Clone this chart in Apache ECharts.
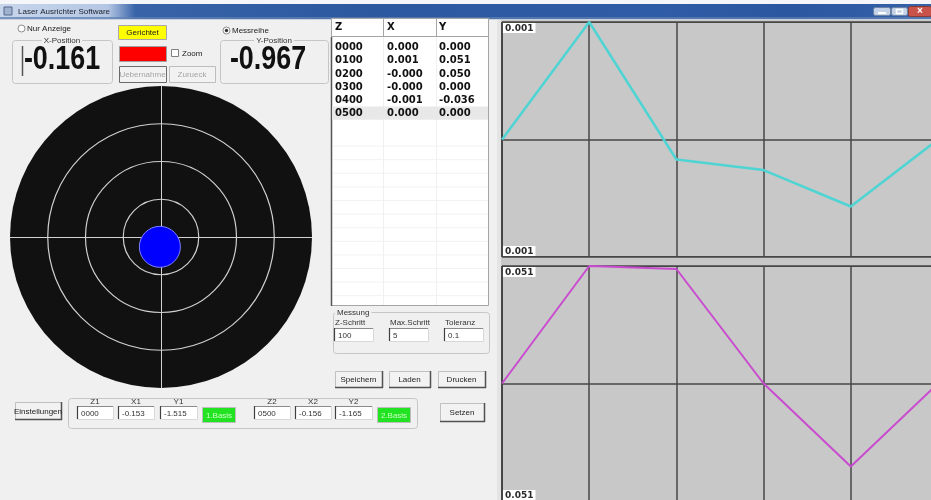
<!DOCTYPE html>
<html><head><meta charset="utf-8">
<script src="https://cdn.jsdelivr.net/npm/echarts@6/dist/echarts.min.js"></script>
<style>html,body{margin:0;padding:0;background:#f0f0f0;overflow:hidden}#c{width:931px;height:500px}</style>
</head><body><div id="c"></div>
<script>
// ---- data ----
const zSteps = [0, 100, 200, 300, 400, 500];
const xDeviation = [0, 0.001, -0.00017, -0.00026, -0.00057, 0];
const yDeviation = [0, 0.051, 0.0497, 0, -0.036, 0];
const xRange = 0.001;
const yRange = 0.051;
const xPosition = -0.161;
const yPosition = -0.967;
const targetRings = [1, 2, 3];
const targetExtent = 4;
const laserSpot = [-0.03, -0.26];
const tableHeader = ['Z', 'X', 'Y'];
const messungLabels = ['Z-Schritt', 'Max.Schritt', 'Toleranz'];
const messungValues = ['100', '5', '0.1'];
const basisLabels1 = ['Z1', 'X1', 'Y1'];
const basisLabels2 = ['Z2', 'X2', 'Y2'];
const basis1 = ['0000', '-0.153', '-1.515'];
const basis2 = ['0500', '-0.156', '-1.165'];

// ---- helpers for the window chrome ----
const UI = '"Liberation Sans", Arial, sans-serif';
const G = [];
function R(x, y, w, h, fill, stroke, lw, r, z) {
  G.push({type: 'rect', z: z || 0, silent: true, shape: {x, y, width: w, height: h, r: r || 0},
    style: {fill: fill || 'none', stroke: stroke || 'none', lineWidth: lw || 1}});
}
function L(x1, y1, x2, y2, stroke, lw, z) {
  G.push({type: 'line', z: z || 0, silent: true, shape: {x1, y1, x2, y2}, style: {stroke, lineWidth: lw || 1}});
}
function T(x, y, s, o) {
  o = o || {};
  const st = {text: s, fill: o.color || '#1a1a1a', font: o.font || ('8px ' + UI),
    align: o.align || 'left', verticalAlign: o.va || 'middle'};
  if (o.bg) { st.backgroundColor = o.bg; st.padding = o.pad || [0, 2]; }
  G.push({type: 'text', z: o.z || 1, silent: true, x, y, scaleX: o.sx || 1, style: st});
}
function C(cx, cy, r, fill, stroke, lw) {
  G.push({type: 'circle', z: 1, silent: true, shape: {cx, cy, r}, style: {fill: fill || 'none', stroke: stroke || 'none', lineWidth: lw || 1}});
}
function button(x, y, w, h, label, o) {
  o = o || {};
  R(x + 0.5, y + 0.5, w, h, o.fill || '#f2f2f2', o.border || '#c0c0c0', 1);
  if (!o.flat) { L(x + w + 0.5, y, x + w + 0.5, y + h + 1, '#505050', 1.5); L(x, y + h + 0.5, x + w + 1, y + h + 0.5, '#505050', 1.5); }
  T(x + w / 2, y + h / 2 + 1, label, {align: 'center', color: o.color || '#222'});
}
function input(x, y, w, h, val) {
  R(x + 0.5, y + 0.5, w, h, '#ffffff', '#d8d8d8', 1);
  L(x, y + 0.5, x + w, y + 0.5, '#8a8a8a', 1);
  L(x + 0.5, y, x + 0.5, y + h, '#404040', 1.2);
  T(x + 4, y + h / 2 + 1, val, {color: '#333'});
}
function groupbox(x, y, w, h, title, tx, center) {
  R(x + 0.5, y + 0.5, w, h, 'none', '#c6c6c6', 1, 3);
  if (title) T(tx, y + 0.5, title, {bg: '#f0f0f0', align: center ? 'center' : 'left', color: '#333'});
}

// ---- title bar ----
R(0, 0, 931, 4, '#f4f6fa', 'none');
G.push({type: 'rect', z: 0, silent: true, shape: {x: 0, y: 4, width: 931, height: 15},
  style: {fill: {type: 'linear', x: 0, y: 0, x2: 1, y2: 0, colorStops: [
    {offset: 0, color: '#5a82bf'}, {offset: 0.15, color: '#3863a8'}, {offset: 0.4, color: '#2c58a0'},
    {offset: 0.7, color: '#2f5ca6'}, {offset: 0.85, color: '#2a57a0'}, {offset: 1, color: '#3461a8'}]}}});
G.push({type: 'rect', z: 0, silent: true, shape: {x: 0, y: 4, width: 135, height: 15},
  style: {fill: {type: 'linear', x: 0, y: 0, x2: 1, y2: 0, colorStops: [
    {offset: 0, color: 'rgba(205,218,238,0.95)'}, {offset: 0.8, color: 'rgba(200,214,236,0.85)'}, {offset: 1, color: 'rgba(200,214,236,0)'}]}}});
L(0, 18, 931, 18, '#5f80b2', 1.5);
R(4, 7, 8, 8, '#9fb3d1', '#56688a', 1);
T(18, 11.5, 'Laser Ausrichter Software', {color: '#1b1f2a'});
R(873.5, 7.5, 17, 8, '#c3d2e6', '#6c82a2', 1, 2);
L(878, 13, 886, 13, '#ffffff', 2);
R(891.5, 7.5, 16, 8, '#c3d2e6', '#6c82a2', 1, 2);
R(896.5, 9.5, 6, 4, 'none', '#ffffff', 1.5);
R(908.5, 6.5, 23, 10, '#c9534b', '#8a3a35', 1, 2);
T(920, 11.5, '×', {align: 'center', color: '#ffffff', font: 'bold 10px ' + UI});
L(0, 19.5, 931, 19.5, '#c9d2de', 1);

// ---- top controls ----
C(21.5, 28.5, 3.5, '#ffffff', '#8a8a8a');
T(27, 28.5, 'Nur Anzeige');
R(118.5, 25.5, 48, 14, '#ffff00', '#a8a8a8', 1);
T(142.5, 33, 'Gerichtet', {align: 'center'});
C(226.5, 30.5, 3.5, '#ffffff', '#8a8a8a');
C(226.5, 30.5, 1.7, '#333333');
T(232, 30.5, 'Messreihe');

groupbox(12, 40, 100, 43, 'X-Position', 62, true);
L(22.5, 46, 22.5, 76, '#555555', 1.5);
T(62, 59.5, xPosition.toFixed(3), {align: 'center', font: 'bold 34px ' + UI, sx: 0.79, color: '#111'});
groupbox(220, 40, 108, 43, 'Y-Position', 274, true);
T(268, 59.5, yPosition.toFixed(3), {align: 'center', font: 'bold 34px ' + UI, sx: 0.79, color: '#111'});

R(119.5, 46.5, 47, 15, '#ff0000', '#a0a0a0', 1);
R(171.5, 49.5, 7, 7, '#ffffff', '#808080', 1);
T(182, 53.5, 'Zoom');
button(119, 66, 47, 16, 'Uebernahme', {color: '#a5a5a5', border: '#6a6a6a', flat: true});
button(169, 66, 46, 16, 'Zurueck', {color: '#a5a5a5', border: '#bdbdbd', flat: true});

// ---- table ----
const rowTop = 37.5, rowH = 13.2, colX = [335, 387, 439], colLines = [383.5, 436.5];
R(331.5, 18.5, 157, 287, '#ffffff', '#a5a5a5', 1);
L(331.5, 37, 331.5, 306, '#555555', 1.5);
for (let y = rowTop + 3 + 8 * rowH; y < 304; y += 13.6) L(333, y, 488, y, '#f2f2f2', 1);
colLines.forEach(x => L(x, 18, x, 305, '#f0f0f0', 1));
colLines.forEach(x => L(x, 18, x, 37, '#a5a5a5', 1));
L(331, 36.5, 489, 36.5, '#a5a5a5', 1);
const tblFont = 'bold 10px "DejaVu Sans", Verdana, sans-serif';
tableHeader.forEach((h, i) => T(colX[i], 27.5, h, {font: tblFont, color: '#111'}));
R(332, rowTop + 3 + 5 * rowH, 156, rowH, '#e8e8e8', 'none');
zSteps.forEach((z, i) => {
  const cy = rowTop + 3.5 + (i + 0.5) * rowH;
  T(colX[0], cy, String(z).padStart(4, '0'), {font: tblFont, color: '#111'});
  T(colX[1], cy, xDeviation[i].toFixed(3), {font: tblFont, color: '#111'});
  T(colX[2], cy, yDeviation[i].toFixed(3), {font: tblFont, color: '#111'});
});

// ---- Messung ----
groupbox(333, 312, 156, 41, 'Messung', 335);
const mX = [334, 389, 444];
messungLabels.forEach((l, i) => T(mX[i] + 1, 323, l, {color: '#333'}));
messungValues.forEach((v, i) => input(mX[i], 328, 39, 13, v));
button(335, 371, 47, 16, 'Speichern');
button(389, 371, 41, 16, 'Laden');
button(438, 371, 47, 16, 'Drucken');

// ---- bottom row ----
button(15, 402, 46, 17, 'Einstellungen');
groupbox(68, 398, 349, 30, null, 0);
const b1X = [77, 118, 160], b2X = [254, 295, 335], bW = [36, 36, 37];
basisLabels1.forEach((l, i) => T(b1X[i] + bW[i] / 2, 402, l, {align: 'center', color: '#333'}));
basisLabels2.forEach((l, i) => T(b2X[i] + bW[i] / 2, 402, l, {align: 'center', color: '#333'}));
basis1.forEach((v, i) => input(b1X[i], 406, bW[i], 13, v));
basis2.forEach((v, i) => input(b2X[i], 406, bW[i], 13, v));
R(202.5, 407.5, 33, 15, '#22e322', '#bdbdbd', 1);
T(219, 415.5, '1.Basis', {align: 'center', color: '#c9ffc0'});
R(377.5, 407.5, 33, 15, '#22e322', '#bdbdbd', 1);
T(394, 415.5, '2.Basis', {align: 'center', color: '#c9ffc0'});
button(440, 403, 44, 18, 'Setzen');

// ---- right panel chrome ----
R(497, 20, 434, 2, '#c8c8c8', 'none');
R(497, 20, 4, 480, '#e4e4e4', 'none');
R(501, 257, 430, 9, '#c8c8c8', 'none');

// ---- chart ----
const gridLine = {color: '#474747', width: 1.5};
function lineX(i) {
  return {type: 'value', gridIndex: i, min: zSteps[0], max: zSteps[zSteps.length - 1], interval: 100,
    axisLine: {show: false}, axisTick: {show: false}, axisLabel: {show: false},
    splitLine: {show: true, lineStyle: gridLine}};
}
function lineY(i, r) {
  return {type: 'value', gridIndex: i, min: -r, max: r, interval: r,
    axisLine: {show: false}, axisTick: {show: false},
    splitLine: {show: true, lineStyle: gridLine},
    axisLabel: {inside: true, margin: 1, showMinLabel: true, showMaxLabel: true,
      formatter: v => v === 0 ? '' : (v > 0 ? '{e| }\n{t|' + Math.abs(v).toFixed(3) + '}' : '{t|' + Math.abs(v).toFixed(3) + '}\n{e| }'),
      rich: {t: {backgroundColor: '#ffffff', padding: [1, 2, 0, 2], fontSize: 9, fontWeight: 'bold', color: '#2a2a2a',
        fontFamily: '"DejaVu Sans", Verdana, sans-serif', lineHeight: 12},
        e: {fontSize: 9, lineHeight: 12}}},
    z: 4};
}
function targetAxis(i) {
  return {type: 'value', gridIndex: i, min: -targetExtent, max: targetExtent,
    axisLine: {show: true, onZero: true, lineStyle: {color: '#d2d2d2', width: 1}},
    axisTick: {show: false}, axisLabel: {show: false}, splitLine: {show: false}, z: 3};
}
const targetSize = 302;
const unit = targetSize / (2 * targetExtent);

const option = {
  animation: false,
  backgroundColor: '#f0f0f0',
  graphic: {elements: G},
  grid: [
    {left: 502, top: 22, width: 436, height: 235, show: true, backgroundColor: '#c8c8c8', borderColor: '#474747', borderWidth: 2, outerBoundsMode: 'none'},
    {left: 502, top: 266, width: 436, height: 235, show: true, backgroundColor: '#c8c8c8', borderColor: '#474747', borderWidth: 2, outerBoundsMode: 'none'},
    {left: 10, top: 86, width: targetSize, height: targetSize, show: false, outerBoundsMode: 'none'}
  ],
  xAxis: [lineX(0), lineX(1), targetAxis(2)],
  yAxis: [lineY(0, xRange), lineY(1, yRange), targetAxis(2)],
  series: [
    {type: 'line', xAxisIndex: 0, yAxisIndex: 0, data: zSteps.map((z, i) => [z, xDeviation[i]]),
      symbol: 'none', showSymbol: false, lineStyle: {color: '#4fd4d4', width: 2.5}, z: 5, silent: true},
    {type: 'line', xAxisIndex: 1, yAxisIndex: 1, data: zSteps.map((z, i) => [z, yDeviation[i]]),
      symbol: 'none', showSymbol: false, lineStyle: {color: '#c94bcf', width: 2}, z: 5, silent: true},
    {type: 'scatter', xAxisIndex: 2, yAxisIndex: 2, silent: true, z: 1,
      data: [{value: [0, 0], symbolSize: targetSize}], itemStyle: {color: '#111111', opacity: 1}},
    {type: 'scatter', xAxisIndex: 2, yAxisIndex: 2, silent: true, z: 2,
      data: targetRings.map(r => ({value: [0, 0], symbolSize: 2 * r * unit})),
      itemStyle: {color: 'rgba(0,0,0,0)', borderColor: '#d0d0d0', borderWidth: 1.2, opacity: 1}},
    {type: 'scatter', xAxisIndex: 2, yAxisIndex: 2, silent: true, z: 6,
      data: [laserSpot], symbolSize: 41, itemStyle: {color: '#0000ff', borderColor: '#8080ff', borderWidth: 1, opacity: 1}}
  ]
};
const chart = echarts.init(document.getElementById('c'));
chart.setOption(option);
</script>
</body></html>
